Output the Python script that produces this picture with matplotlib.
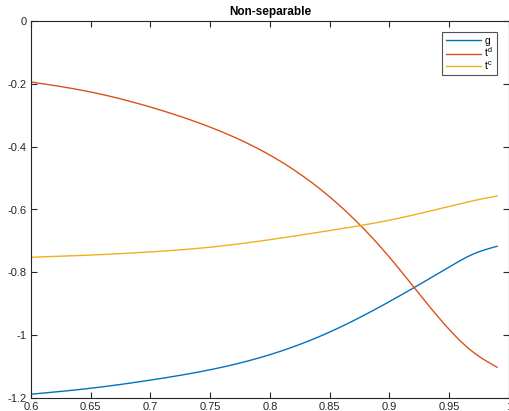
import matplotlib
matplotlib.use("Agg")
import matplotlib.pyplot as plt
import numpy as np

plt.rcParams['font.family'] = ['Liberation Sans', 'DejaVu Sans']
plt.rcParams['mathtext.fontset'] = 'custom'
plt.rcParams['mathtext.rm'] = 'Liberation Sans'
plt.rcParams['mathtext.it'] = 'Liberation Sans'

x = [0.60, 0.65, 0.70, 0.75, 0.80, 0.85, 0.90, 0.95, 0.97, 0.99]
g = [-1.188, -1.169, -1.143, -1.110, -1.062, -0.990, -0.893, -0.783, -0.742, -0.717]
td = [-0.194, -0.226, -0.274, -0.338, -0.427, -0.560, -0.752, -0.982, -1.054, -1.102]
tc = [-0.752, -0.745, -0.735, -0.720, -0.696, -0.667, -0.634, -0.590, -0.572, -0.557]

labels = ['g', '$t^d$', '$t^c$']
colors = ['#0072BD', '#D95319', '#EDB120']
xticks = [0.6, 0.65, 0.7, 0.75, 0.8, 0.85, 0.9, 0.95, 1.0]
xticklabels = ['0.6', '0.65', '0.7', '0.75', '0.8', '0.85', '0.9', '0.95', '1']
yticks = [0, -0.2, -0.4, -0.6, -0.8, -1.0, -1.2]
yticklabels = ['0', '-0.2', '-0.4', '-0.6', '-0.8', '-1', '-1.2']


def spline(xk, yk, xs):
    xk = np.asarray(xk, float); yk = np.asarray(yk, float)
    n = len(xk); h = np.diff(xk)
    A = np.zeros((n, n)); b = np.zeros(n)
    A[0, 0] = A[-1, -1] = 1.0
    for i in range(1, n - 1):
        A[i, i - 1] = h[i - 1]; A[i, i] = 2 * (h[i - 1] + h[i]); A[i, i + 1] = h[i]
        b[i] = 6 * ((yk[i + 1] - yk[i]) / h[i] - (yk[i] - yk[i - 1]) / h[i - 1])
    M = np.linalg.solve(A, b)
    idx = np.clip(np.searchsorted(xk, xs) - 1, 0, n - 2)
    x0 = xk[idx]; x1 = xk[idx + 1]; hh = h[idx]
    return (M[idx] * (x1 - xs)**3 / (6 * hh) + M[idx + 1] * (xs - x0)**3 / (6 * hh)
            + (yk[idx] / hh - M[idx] * hh / 6) * (x1 - xs)
            + (yk[idx + 1] / hh - M[idx + 1] * hh / 6) * (xs - x0))


fig = plt.figure(figsize=(5.1, 4.11), dpi=100)
ax = fig.add_axes([31/510, 13/411, 478/510, 377/411])

xs = np.linspace(min(x), max(x), 300)
for ys, c, lab in zip([g, td, tc], colors, labels):
    ax.plot(xs, spline(x, ys, xs), color=c, lw=1.0, label=lab)

ax.set_xlim(0.6, 1.0)
ax.set_ylim(-1.2, 0)
ax.set_xticks(xticks)
ax.set_xticklabels(xticklabels)
ax.set_yticks(yticks)
ax.set_yticklabels(yticklabels)
axc = '#262626'
for s in ax.spines.values():
    s.set_color(axc)
    s.set_linewidth(0.8)
ax.tick_params(direction='in', top=True, right=True, length=4, width=0.8,
               colors=axc, labelsize=8, pad=3)
ax.set_title('Non-separable', fontsize=8.5, fontweight='bold', pad=4)

leg = ax.legend(loc='upper right', fontsize=7.5, frameon=True, fancybox=False,
                edgecolor=axc, handlelength=3.4, handletextpad=0.3,
                borderpad=0.35, labelspacing=0.0, borderaxespad=0.0,
                bbox_to_anchor=(0.975, 0.971))
leg.get_frame().set_linewidth(0.8)

fig.savefig('out.png', dpi=100)
